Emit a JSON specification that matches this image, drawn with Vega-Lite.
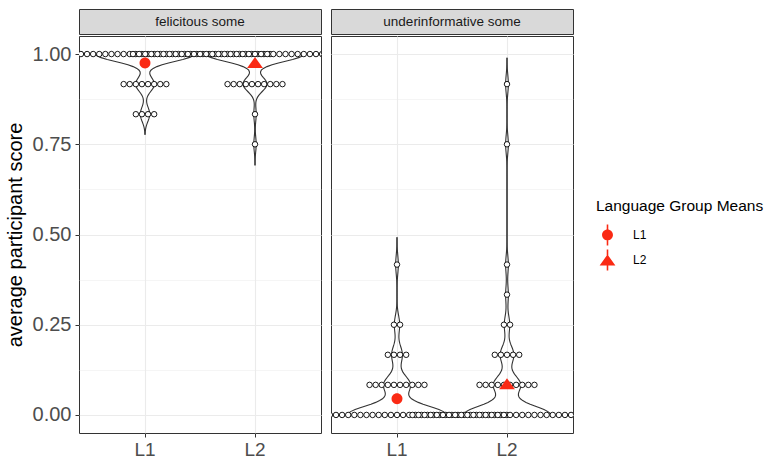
{
  "$schema": "https://vega.github.io/schema/vega-lite/v6.json",
  "padding": {"left": 4, "top": 8, "right": 5, "bottom": 0},
  "config": {
    "font": "Liberation Sans",
    "view": {"stroke": "#333333", "strokeWidth": 1}
  },
  "datasets": {
    "felicitous": [
      {"group":"L1","score":1},{"group":"L1","score":1},{"group":"L1","score":1},{"group":"L1","score":1},{"group":"L1","score":1},{"group":"L1","score":1},{"group":"L1","score":1},{"group":"L1","score":1},{"group":"L1","score":1},{"group":"L1","score":1},
      {"group":"L1","score":1},{"group":"L1","score":1},{"group":"L1","score":1},{"group":"L1","score":1},{"group":"L1","score":1},{"group":"L1","score":1},{"group":"L1","score":1},{"group":"L1","score":1},{"group":"L1","score":1},{"group":"L1","score":1},
      {"group":"L1","score":1},{"group":"L1","score":1},{"group":"L1","score":1},{"group":"L1","score":1},{"group":"L1","score":1},{"group":"L1","score":1},{"group":"L1","score":1},{"group":"L1","score":1},{"group":"L1","score":1},{"group":"L1","score":1},
      {"group":"L1","score":1},{"group":"L1","score":1},{"group":"L1","score":1},{"group":"L1","score":1},{"group":"L1","score":1},{"group":"L1","score":1},{"group":"L1","score":1},{"group":"L1","score":1},{"group":"L1","score":1},{"group":"L1","score":1},
      {"group":"L1","score":1},{"group":"L1","score":1},
      {"group":"L1","score":0.9166667},{"group":"L1","score":0.9166667},{"group":"L1","score":0.9166667},{"group":"L1","score":0.9166667},{"group":"L1","score":0.9166667},{"group":"L1","score":0.9166667},{"group":"L1","score":0.9166667},{"group":"L1","score":0.9166667},
      {"group":"L1","score":0.8333333},{"group":"L1","score":0.8333333},{"group":"L1","score":0.8333333},{"group":"L1","score":0.8333333},
      {"group":"L2","score":1},{"group":"L2","score":1},{"group":"L2","score":1},{"group":"L2","score":1},{"group":"L2","score":1},{"group":"L2","score":1},{"group":"L2","score":1},{"group":"L2","score":1},{"group":"L2","score":1},{"group":"L2","score":1},
      {"group":"L2","score":1},{"group":"L2","score":1},{"group":"L2","score":1},{"group":"L2","score":1},{"group":"L2","score":1},{"group":"L2","score":1},{"group":"L2","score":1},{"group":"L2","score":1},{"group":"L2","score":1},{"group":"L2","score":1},
      {"group":"L2","score":1},{"group":"L2","score":1},{"group":"L2","score":1},{"group":"L2","score":1},{"group":"L2","score":1},{"group":"L2","score":1},{"group":"L2","score":1},{"group":"L2","score":1},{"group":"L2","score":1},{"group":"L2","score":1},
      {"group":"L2","score":1},{"group":"L2","score":1},{"group":"L2","score":1},{"group":"L2","score":1},{"group":"L2","score":1},{"group":"L2","score":1},{"group":"L2","score":1},{"group":"L2","score":1},{"group":"L2","score":1},{"group":"L2","score":1},
      {"group":"L2","score":1},
      {"group":"L2","score":0.9166667},{"group":"L2","score":0.9166667},{"group":"L2","score":0.9166667},{"group":"L2","score":0.9166667},{"group":"L2","score":0.9166667},{"group":"L2","score":0.9166667},{"group":"L2","score":0.9166667},{"group":"L2","score":0.9166667},{"group":"L2","score":0.9166667},{"group":"L2","score":0.9166667},
      {"group":"L2","score":0.8333333},
      {"group":"L2","score":0.75}
    ],
    "underinformative": [
      {"group":"L1","score":0},{"group":"L1","score":0},{"group":"L1","score":0},{"group":"L1","score":0},{"group":"L1","score":0},{"group":"L1","score":0},{"group":"L1","score":0},{"group":"L1","score":0},{"group":"L1","score":0},{"group":"L1","score":0},
      {"group":"L1","score":0},{"group":"L1","score":0},{"group":"L1","score":0},{"group":"L1","score":0},{"group":"L1","score":0},{"group":"L1","score":0},{"group":"L1","score":0},{"group":"L1","score":0},{"group":"L1","score":0},{"group":"L1","score":0},
      {"group":"L1","score":0},{"group":"L1","score":0},{"group":"L1","score":0},{"group":"L1","score":0},{"group":"L1","score":0},{"group":"L1","score":0},{"group":"L1","score":0},{"group":"L1","score":0},{"group":"L1","score":0},{"group":"L1","score":0},
      {"group":"L1","score":0},{"group":"L1","score":0},{"group":"L1","score":0},{"group":"L1","score":0},{"group":"L1","score":0},{"group":"L1","score":0},{"group":"L1","score":0},
      {"group":"L1","score":0.0833333},{"group":"L1","score":0.0833333},{"group":"L1","score":0.0833333},{"group":"L1","score":0.0833333},{"group":"L1","score":0.0833333},{"group":"L1","score":0.0833333},{"group":"L1","score":0.0833333},{"group":"L1","score":0.0833333},{"group":"L1","score":0.0833333},{"group":"L1","score":0.0833333},
      {"group":"L1","score":0.1666667},{"group":"L1","score":0.1666667},{"group":"L1","score":0.1666667},{"group":"L1","score":0.1666667},
      {"group":"L1","score":0.25},{"group":"L1","score":0.25},
      {"group":"L1","score":0.4166667},
      {"group":"L2","score":0},{"group":"L2","score":0},{"group":"L2","score":0},{"group":"L2","score":0},{"group":"L2","score":0},{"group":"L2","score":0},{"group":"L2","score":0},{"group":"L2","score":0},{"group":"L2","score":0},{"group":"L2","score":0},
      {"group":"L2","score":0},{"group":"L2","score":0},{"group":"L2","score":0},{"group":"L2","score":0},{"group":"L2","score":0},{"group":"L2","score":0},{"group":"L2","score":0},{"group":"L2","score":0},{"group":"L2","score":0},{"group":"L2","score":0},
      {"group":"L2","score":0},{"group":"L2","score":0},{"group":"L2","score":0},{"group":"L2","score":0},{"group":"L2","score":0},{"group":"L2","score":0},{"group":"L2","score":0},{"group":"L2","score":0},{"group":"L2","score":0},{"group":"L2","score":0},
      {"group":"L2","score":0},{"group":"L2","score":0},
      {"group":"L2","score":0.0833333},{"group":"L2","score":0.0833333},{"group":"L2","score":0.0833333},{"group":"L2","score":0.0833333},{"group":"L2","score":0.0833333},{"group":"L2","score":0.0833333},{"group":"L2","score":0.0833333},{"group":"L2","score":0.0833333},{"group":"L2","score":0.0833333},{"group":"L2","score":0.0833333},
      {"group":"L2","score":0.1666667},{"group":"L2","score":0.1666667},{"group":"L2","score":0.1666667},{"group":"L2","score":0.1666667},{"group":"L2","score":0.1666667},
      {"group":"L2","score":0.25},{"group":"L2","score":0.25},
      {"group":"L2","score":0.3333333},
      {"group":"L2","score":0.4166667},
      {"group":"L2","score":0.75},
      {"group":"L2","score":0.9166667}
    ]
  },
  "spacing": 8,
  "hconcat": [
    {
      "spacing": 0,
      "vconcat": [
        {
          "data": {"values": [{"condition": "felicitous some"}]},
          "width": 242,
          "height": 25,
          "view": {"fill": "#d9d9d9", "stroke": "#333333"},
          "mark": {"type": "text", "fontSize": 13.5, "color": "#1a1a1a"},
          "encoding": {"text": {"field": "condition"}}
        },
        {
          "width": 242,
          "height": 397,
          "data": {"name": "felicitous"},
          "encoding": {
            "x": {"field": "group", "type": "nominal", "scale": {"type": "band", "paddingInner": 0, "paddingOuter": 0.1},
              "axis": {"title": null, "labelFontSize": 19, "labelColor": "#4d4d4d", "labelPadding": 3, "labelAngle": 0, "tickSize": 4, "tickColor": "#333333", "domain": false, "grid": true, "gridColor": "#ebebeb", "gridWidth": 1.1, "bandPosition": 0.5}},
            "y": {"field": "score", "type": "quantitative", "scale": {"domain": [-0.05, 1.05], "nice": false, "zero": false},
              "axis": {"title": "average participant score", "titleFontSize": 20, "titleFontWeight": "normal", "titleColor": "black", "titlePadding": 7,
                "labelFontSize": 20, "labelColor": "#4d4d4d", "labelPadding": 4, "tickSize": 4, "tickColor": "#333333", "domain": false, "grid": true, "gridColor": "#ebebeb",
                "values": [0, 0.125, 0.25, 0.375, 0.5, 0.625, 0.75, 0.875, 1],
                "labelExpr": "datum.value * 4 % 1 === 0 ? format(datum.value, '.2f') : ''",
                "tickOpacity": {"condition": {"test": "datum.value * 4 % 1 !== 0", "value": 0}, "value": 1},
                "gridWidth": {"condition": {"test": "datum.value * 4 % 1 !== 0", "value": 0.5}, "value": 1.1}}}
          },
          "layer": [
            {
              "transform": [
                {"joinaggregate": [{"op": "min", "field": "score", "as": "smin"}, {"op": "max", "field": "score", "as": "smax"}], "groupby": ["group"]},
                {"density": "score", "groupby": ["group", "smin", "smax"], "bandwidth": 0.0203, "extent": [0, 1], "steps": 201, "as": ["score", "density"]},
                {"filter": "datum.score >= datum.smin - 0.061 && datum.score <= datum.smax + 0.061"},
                {"stack": "density", "groupby": ["group", "score"], "offset": "center", "as": ["lo", "hi"]}
              ],
              "layer": [
                {"mark": {"type": "line", "color": "#333333", "strokeWidth": 1.1},
                 "encoding": {"xOffset": {"field": "lo", "type": "quantitative", "scale": {"range": [5.5, 104.5], "nice": false, "zero": false}},
                   "detail": {"field": "group"}, "order": {"field": "score", "type": "quantitative"}}},
                {"mark": {"type": "line", "color": "#333333", "strokeWidth": 1.1},
                 "encoding": {"xOffset": {"field": "hi", "type": "quantitative", "scale": {"range": [5.5, 104.5], "nice": false, "zero": false}},
                   "detail": {"field": "group"}, "order": {"field": "score", "type": "quantitative"}}}
              ]
            },
            {
              "transform": [
                {"window": [{"op": "count", "as": "one"}], "frame": [0, 0]},
                {"stack": "one", "groupby": ["group", "score"], "offset": "center", "as": ["s0", "s1"]}
              ],
              "mark": {"type": "circle", "size": 30, "fill": "white", "stroke": "black", "strokeWidth": 0.9, "opacity": 1, "clip": true},
              "encoding": {"xOffset": {"field": "s0", "type": "quantitative", "scale": {"domain": [11.484, 29.516], "range": [0, 110], "nice": false, "zero": false}}}
            },
            {
              "transform": [{"aggregate": [{"op": "mean", "field": "score", "as": "score"}], "groupby": ["group"]}],
              "mark": {"type": "point", "filled": true, "color": "#fa2a14", "size": 441, "opacity": 0},
              "encoding": {
                "shape": {"field": "group", "type": "nominal",
                  "scale": {"domain": ["L1", "L2"], "range": ["M-0.075,-1H0.075V1H-0.075ZM0.52,0A0.52,0.52,0,1,1,-0.52,0A0.52,0.52,0,1,1,0.52,0Z", "M-0.075,-1H0.075V1H-0.075ZM0,-0.52L0.75,0.52L-0.75,0.52Z"]},
                  "legend": {"title": "Language Group Means", "orient": "none", "legendX": 517, "legendY": 190, "padding": 0,
                    "titleFontSize": 15.5, "titleFontWeight": "normal", "titleColor": "black", "titlePadding": 9,
                    "labelFontSize": 12, "labelColor": "black", "labelOffset": 14, "symbolSize": 441, "rowPadding": -3,
                    "symbolFillColor": "#fa2a14", "symbolOpacity": 1}}
              }
            },
            {
              "transform": [{"aggregate": [{"op": "mean", "field": "score", "as": "score"}], "groupby": ["group"]}, {"filter": "datum.group === 'L1'"}],
              "mark": {"type": "point", "filled": true, "color": "#fa2a14", "size": 441, "opacity": 1, "shape": "M0.52,0A0.52,0.52,0,1,1,-0.52,0A0.52,0.52,0,1,1,0.52,0Z"}
            },
            {
              "transform": [{"aggregate": [{"op": "mean", "field": "score", "as": "score"}], "groupby": ["group"]}, {"filter": "datum.group === 'L2'"}],
              "mark": {"type": "point", "filled": true, "color": "#fa2a14", "size": 441, "opacity": 1, "shape": "M0,-0.52L0.75,0.52L-0.75,0.52Z"}
            }
          ],
          "resolve": {"scale": {"xOffset": "independent"}}
        }
      ]
    },
    {
      "spacing": 0,
      "vconcat": [
        {
          "data": {"values": [{"condition": "underinformative some"}]},
          "width": 242,
          "height": 25,
          "view": {"fill": "#d9d9d9", "stroke": "#333333"},
          "mark": {"type": "text", "fontSize": 13.5, "color": "#1a1a1a"},
          "encoding": {"text": {"field": "condition"}}
        },
        {
          "width": 242,
          "height": 397,
          "data": {"name": "underinformative"},
          "encoding": {
            "x": {"field": "group", "type": "nominal", "scale": {"type": "band", "paddingInner": 0, "paddingOuter": 0.1},
              "axis": {"title": null, "labelFontSize": 19, "labelColor": "#4d4d4d", "labelPadding": 3, "labelAngle": 0, "tickSize": 4, "tickColor": "#333333", "domain": false, "grid": true, "gridColor": "#ebebeb", "gridWidth": 1.1, "bandPosition": 0.5}},
            "y": {"field": "score", "type": "quantitative", "scale": {"domain": [-0.05, 1.05], "nice": false, "zero": false},
              "axis": {"title": null, "labels": false, "ticks": false, "domain": false, "grid": true, "gridColor": "#ebebeb",
                "values": [0, 0.125, 0.25, 0.375, 0.5, 0.625, 0.75, 0.875, 1],
                "gridWidth": {"condition": {"test": "datum.value * 4 % 1 !== 0", "value": 0.5}, "value": 1.1}}}
          },
          "layer": [
            {
              "transform": [
                {"joinaggregate": [{"op": "min", "field": "score", "as": "smin"}, {"op": "max", "field": "score", "as": "smax"}], "groupby": ["group"]},
                {"density": "score", "groupby": ["group", "smin", "smax"], "bandwidth": 0.0253, "extent": [0, 1], "steps": 201, "as": ["score", "density"]},
                {"filter": "datum.score >= datum.smin - 0.076 && datum.score <= datum.smax + 0.076"},
                {"stack": "density", "groupby": ["group", "score"], "offset": "center", "as": ["lo", "hi"]}
              ],
              "layer": [
                {"mark": {"type": "line", "color": "#333333", "strokeWidth": 1.1},
                 "encoding": {"xOffset": {"field": "lo", "type": "quantitative", "scale": {"range": [5.5, 104.5], "nice": false, "zero": false}},
                   "detail": {"field": "group"}, "order": {"field": "score", "type": "quantitative"}}},
                {"mark": {"type": "line", "color": "#333333", "strokeWidth": 1.1},
                 "encoding": {"xOffset": {"field": "hi", "type": "quantitative", "scale": {"range": [5.5, 104.5], "nice": false, "zero": false}},
                   "detail": {"field": "group"}, "order": {"field": "score", "type": "quantitative"}}}
              ]
            },
            {
              "transform": [
                {"window": [{"op": "count", "as": "one"}], "frame": [0, 0]},
                {"stack": "one", "groupby": ["group", "score"], "offset": "center", "as": ["s0", "s1"]}
              ],
              "mark": {"type": "circle", "size": 30, "fill": "white", "stroke": "black", "strokeWidth": 0.9, "opacity": 1, "clip": true},
              "encoding": {"xOffset": {"field": "s0", "type": "quantitative", "scale": {"domain": [8.984, 27.016], "range": [0, 110], "nice": false, "zero": false}}}
            },
            {
              "transform": [{"aggregate": [{"op": "mean", "field": "score", "as": "score"}], "groupby": ["group"]}, {"filter": "datum.group === 'L1'"}],
              "mark": {"type": "point", "filled": true, "color": "#fa2a14", "size": 441, "opacity": 1, "shape": "M0.52,0A0.52,0.52,0,1,1,-0.52,0A0.52,0.52,0,1,1,0.52,0Z"}
            },
            {
              "transform": [{"aggregate": [{"op": "mean", "field": "score", "as": "score"}], "groupby": ["group"]}, {"filter": "datum.group === 'L2'"}],
              "mark": {"type": "point", "filled": true, "color": "#fa2a14", "size": 441, "opacity": 1, "shape": "M0,-0.52L0.75,0.52L-0.75,0.52Z"}
            }
          ],
          "resolve": {"scale": {"xOffset": "independent"}}
        }
      ]
    }
  ]
}
